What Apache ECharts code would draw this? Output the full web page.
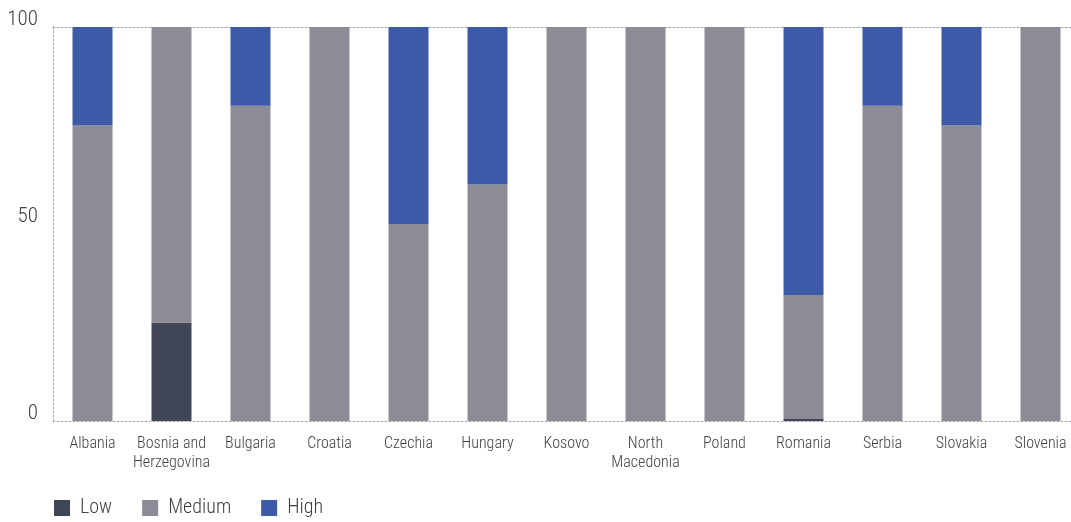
<!DOCTYPE html>
<html>
<head>
<meta charset="utf-8">
<script src="https://cdn.jsdelivr.net/npm/echarts@6/dist/echarts.min.js"></script>
<style>
html,body{margin:0;padding:0;background:#fff;}
#chart{width:1071px;height:522px;}
</style>
</head>
<body>
<div id="chart"></div>
<script>
const categories = ['Albania','Bosnia and\nHerzegovina','Bulgaria','Croatia','Czechia','Hungary','Kosovo','North\nMacedonia','Poland','Romania','Serbia','Slovakia','Slovenia'];
const lowValues    = [0, 25, 0, 0, 0, 0, 0, 0, 0, 0.5, 0, 0, 0];
const mediumValues = [75, 75, 80, 100, 50, 60, 100, 100, 100, 31.5, 80, 75, 100];
const highValues   = [25, 0, 20, 0, 50, 40, 0, 0, 0, 68, 20, 25, 0];
const yTicks = [0, 50, 100];

const FONT = '"Roboto Condensed", "DejaVu Sans Condensed", sans-serif';
const dotted = {show:true, lineStyle:{color:'#a6a6a6', type:[2,2], width:1}};

const chart = echarts.init(document.getElementById('chart'));
chart.setOption({
  animation:false,
  textStyle:{fontFamily:FONT},
  grid:{left:53, top:27, width:1027, height:394, containLabel:false, outerBoundsMode:'none'},
  legend:{
    left:54, top:498, padding:0, itemWidth:16, itemHeight:16, itemGap:30,
    icon:'rect',
    textStyle:{fontFamily:FONT, fontSize:20, fontWeight:300, color:'#404040', padding:[0,0,0,5]},
    data:['Low','Medium','High']
  },
  xAxis:[{
    type:'category', data:categories,
    axisLine:dotted, axisTick:{show:false},
    axisLabel:{fontFamily:FONT, fontSize:16, fontWeight:300, color:'#404040', margin:13, lineHeight:19, interval:0}
  },{
    type:'category', data:categories, position:'top',
    axisLine:dotted, axisTick:{show:false}, axisLabel:{show:false}
  }],
  yAxis:{
    type:'value', min:yTicks[0], max:yTicks[yTicks.length-1], interval:50,
    axisLine:dotted, axisTick:{show:false}, splitLine:{show:false},
    axisLabel:{fontFamily:FONT, fontSize:21, fontWeight:300, color:'#404040', margin:15, verticalAlign:'bottom', lineHeight:14}
  },
  series:[
    {name:'Low', type:'bar', stack:'a', data:lowValues, barWidth:40, itemStyle:{color:'#414656'}},
    {name:'Medium', type:'bar', stack:'a', data:mediumValues, barWidth:40, itemStyle:{color:'#8d8c96'}},
    {name:'High', type:'bar', stack:'a', data:highValues, barWidth:40, itemStyle:{color:'#3c5aa8'}}
  ]
});
</script>
</body>
</html>
